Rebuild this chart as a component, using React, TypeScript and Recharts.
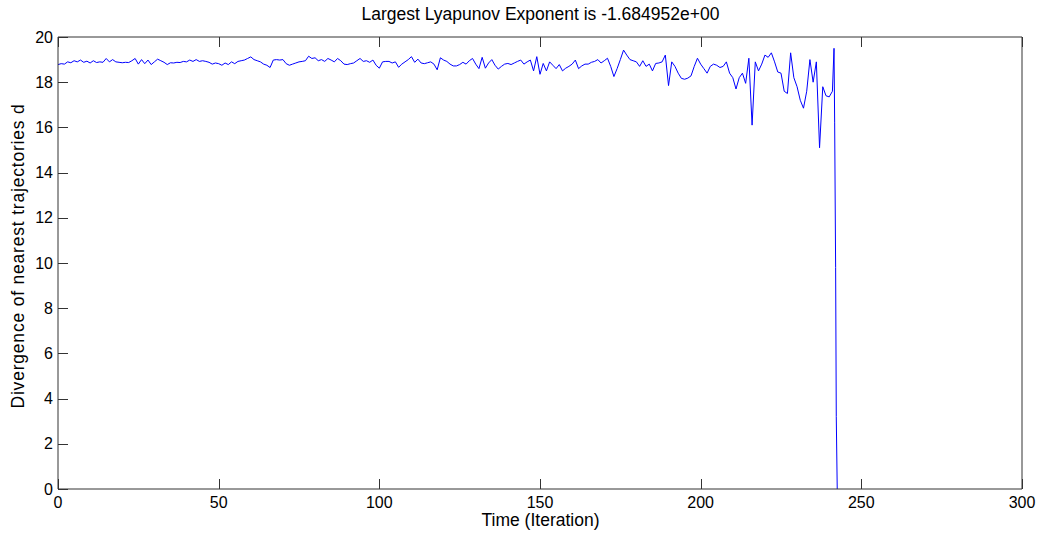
import React from "react";
import { LineChart, Line, XAxis, YAxis } from "recharts";

const values: number[] = [
  18.78, 18.82, 18.8, 18.9, 18.86, 18.95, 18.9, 18.98, 18.88, 18.93,
  18.85, 18.95, 18.87, 18.9, 18.88, 19.05, 18.9, 19.0, 18.9, 18.88,
  18.86, 18.88, 18.87, 18.95, 19.05, 18.8, 19.0, 18.82, 18.98, 18.78,
  18.9, 19.02, 18.95, 18.88, 18.78, 18.86, 18.85, 18.88, 18.87, 18.92,
  18.9, 18.98, 18.92, 19.0, 18.92, 18.95, 18.92, 18.88, 18.8, 18.85,
  18.82, 18.75, 18.85, 18.78, 18.9, 18.82, 18.92, 18.95, 18.98, 19.05,
  19.12, 19.0, 18.95, 18.9, 18.8, 18.75, 18.65, 18.98, 19.0, 18.98,
  19.0, 18.82, 18.75, 18.8, 18.85, 18.9, 18.92, 18.95, 19.15, 19.05,
  19.08, 18.95, 19.0, 18.92, 19.05, 18.98, 18.9, 19.05, 18.95, 18.8,
  18.78, 18.82, 18.85, 18.95, 19.05, 18.92, 18.95, 18.88, 18.98, 18.75,
  18.62, 18.9, 18.92, 18.92, 18.85, 18.9, 18.66, 18.8, 18.9, 19.0,
  19.13, 18.88, 19.02, 18.85, 18.82, 18.86, 18.9, 18.8, 18.55, 19.08,
  18.98, 18.92, 18.8, 18.72, 18.72, 18.78, 18.88, 18.8, 18.95, 19.05,
  18.8, 18.6, 19.1, 18.62, 18.85, 19.0, 18.75, 18.58, 18.7, 18.8,
  18.83, 18.78, 18.85, 18.92, 18.98, 18.8, 18.9, 18.98, 18.5, 19.13,
  18.35, 18.83, 18.5, 18.9, 18.75, 18.6, 18.78, 18.5, 18.62, 18.7,
  18.8, 18.98, 18.6, 18.72, 18.8, 18.8, 18.88, 18.92, 19.0, 18.85,
  18.95, 19.06, 18.7, 18.25, 18.6, 19.0, 19.42, 19.2, 19.0, 18.95,
  18.9, 18.7, 18.95, 18.7, 18.8, 18.5, 18.83, 18.85, 18.9, 19.2,
  17.85, 18.9, 18.7, 18.4, 18.17, 18.13, 18.18, 18.28, 18.7, 19.06,
  18.8, 18.6, 18.4, 18.7, 18.8, 18.75, 18.65, 18.7, 18.9, 18.4,
  18.2, 17.7, 18.2, 18.4, 17.95, 19.06, 16.1, 18.9, 18.5, 18.8,
  19.2, 19.1, 19.3, 18.9, 18.45, 18.4, 17.6, 17.5, 19.3, 18.2,
  17.8, 17.2, 16.85, 17.6, 19.0, 18.0, 18.9, 15.1, 17.8, 17.4,
  17.35, 17.6,
];

const tailTimes: number[] = [241.5, 241.7, 242.0, 242.2, 242.5];
const tailValues: number[] = [19.5, 16.2, 9.8, 3.2, 0];

const xTicks: number[] = [0, 50, 100, 150, 200, 250, 300];
const yTicks: number[] = [0, 2, 4, 6, 8, 10, 12, 14, 16, 18, 20];

const titleText = "Largest Lyapunov Exponent is -1.684952e+00";
const xLabelText = "Time (Iteration)";
const yLabelText = "Divergence of nearest trajectories d";

const data = [
  ...values.map((d, i) => ({ t: i, d })),
  ...tailTimes.map((t, i) => ({ t, d: tailValues[i] })),
];

const FONT = "'Liberation Sans', Arial, Helvetica, sans-serif";
const AX = "#333333";
const TL = 10; // inward tick length
const MX = 8; // bottom label gap
const MY = 5; // left label gap
const FS = 16;
const px = (v: number) => Math.round(v) + 0.5;

const BottomTick = (p: any) => {
  const base = p.y - MX;
  const x = px(p.x);
  return (
    <g>
      <line x1={x} x2={x} y1={base} y2={base - TL} stroke={AX} strokeWidth={1} />
      <text x={p.x} y={p.y} dy="0.71em" textAnchor="middle" fill="#000" fontSize={FS} fontFamily={FONT}>
        {p.payload.value}
      </text>
    </g>
  );
};
const TopTick = (p: any) => {
  const x = px(p.x);
  return <line x1={x} x2={x} y1={p.y} y2={p.y + TL} stroke={AX} strokeWidth={1} />;
};
const LeftTick = (p: any) => {
  const base = p.x + MY;
  const y = px(p.y);
  return (
    <g>
      <line x1={base} x2={base + TL} y1={y} y2={y} stroke={AX} strokeWidth={1} />
      <text x={p.x} y={p.y} dy="0.355em" textAnchor="end" fill="#000" fontSize={FS} fontFamily={FONT}>
        {p.payload.value}
      </text>
    </g>
  );
};
const RightTick = (p: any) => {
  const y = px(p.y);
  return <line x1={p.x} x2={p.x - TL} y1={y} y2={y} stroke={AX} strokeWidth={1} />;
};

export default function App() {
  return (
    <div
      style={{
        position: "absolute",
        left: 0,
        top: 0,
        width: 1045,
        height: 538,
        background: "#fff",
        fontFamily: FONT,
      }}
    >
      <LineChart
        width={1045}
        height={538}
        data={data}
        margin={{ top: 36, right: 22, bottom: 48, left: 57 }}
      >
        <XAxis
          xAxisId="b"
          dataKey="t"
          type="number"
          domain={[0, 300]}
          ticks={xTicks}
          height={1}
          tickSize={0}
          tickLine={false}
          tickMargin={MX}
          stroke={AX}
          tick={BottomTick}
          interval={0}
        />
        <XAxis
          xAxisId="t"
          orientation="top"
          dataKey="t"
          type="number"
          domain={[0, 300]}
          ticks={xTicks}
          height={1}
          tickSize={0}
          tickLine={false}
          tickMargin={0}
          stroke={AX}
          tick={TopTick}
          interval={0}
        />
        <YAxis
          yAxisId="l"
          type="number"
          domain={[0, 20]}
          ticks={yTicks}
          width={1}
          tickSize={0}
          tickLine={false}
          tickMargin={MY}
          stroke={AX}
          tick={LeftTick}
          interval={0}
        />
        <YAxis
          yAxisId="r"
          orientation="right"
          type="number"
          domain={[0, 20]}
          ticks={yTicks}
          width={1}
          tickSize={0}
          tickLine={false}
          tickMargin={0}
          stroke={AX}
          tick={RightTick}
          interval={0}
        />
        <Line
          xAxisId="b"
          yAxisId="l"
          type="linear"
          dataKey="d"
          stroke="#0000ff"
          strokeWidth={1}
          dot={false}
          activeDot={false}
          isAnimationActive={false}
        />
      </LineChart>
      <div
        style={{
          position: "absolute",
          left: 58,
          width: 965,
          top: 4,
          textAlign: "center",
          fontSize: 17.5,
          color: "#000",
          lineHeight: "20px",
        }}
      >
        {titleText}
      </div>
      <div
        style={{
          position: "absolute",
          left: 58,
          width: 965,
          top: 510,
          textAlign: "center",
          fontSize: 17.5,
          color: "#000",
          lineHeight: "20px",
        }}
      >
        {xLabelText}
      </div>
      <div
        style={{
          position: "absolute",
          left: 18,
          top: 256,
          width: 400,
          marginLeft: -200,
          marginTop: -10,
          textAlign: "center",
          fontSize: 17.5,
          letterSpacing: "0.8px",
          color: "#000",
          lineHeight: "20px",
          transform: "rotate(-90deg)",
        }}
      >
        {yLabelText}
      </div>
    </div>
  );
}
